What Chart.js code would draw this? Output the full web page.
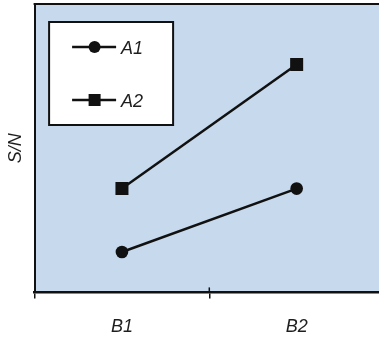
<!DOCTYPE html>
<html>
<head>
<meta charset="utf-8">
<script src="https://cdn.jsdelivr.net/npm/chart.js@4.4.1/dist/chart.umd.min.js"></script>
<style>
  html, body { margin: 0; padding: 0; background: #fff; overflow: hidden; }
  #wrap { width: 379px; height: 338px; overflow: hidden; }
</style>
</head>
<body>
<div id="wrap"><canvas id="myChart" width="384" height="356"></canvas></div>
<script>
// data
const categories = ['B1', 'B2'];
const seriesNames = ['A1', 'A2'];
const a1Values = [1.4, 3.6];
const a2Values = [3.6, 7.9];
const pointShapes = ['circle', 'rect'];
const yLabel = 'S/N';

const FONT = '"Liberation Sans", Arial, sans-serif';
const TEXT = '#1e1e1e';

// blue plot background, top frame line, crossing tick marks, boxed legend
const framePlugin = {
  id: 'frame',
  beforeDraw(chart) {
    const {ctx, chartArea} = chart;
    ctx.save();
    ctx.fillStyle = '#c6d9ed';
    ctx.fillRect(chartArea.left, chartArea.top, chartArea.right - chartArea.left, chartArea.bottom - chartArea.top);
    ctx.restore();
  },
  afterDraw(chart) {
    const {ctx, chartArea} = chart;
    const x = chart.scales.x;
    ctx.save();
    ctx.strokeStyle = '#111';
    ctx.lineWidth = 2;
    ctx.beginPath();
    ctx.moveTo(chartArea.left - 1, chartArea.top);
    ctx.lineTo(chartArea.right, chartArea.top);
    ctx.stroke();

    // inner tick marks go a bit above the axis line
    ctx.lineWidth = 1.5;
    for (let i = 0; i < categories.length - 1; i++) {
      const px = (x.getPixelForValue(i) + x.getPixelForValue(i + 1)) / 2;
      ctx.beginPath();
      ctx.moveTo(px, chartArea.bottom - 5);
      ctx.lineTo(px, chartArea.bottom);
      ctx.stroke();
    }

    // legend box
    const bx = chartArea.left + 14.5, by = chartArea.top + 18, bw = 124, bh = 103;
    ctx.fillStyle = '#fff';
    ctx.fillRect(bx, by, bw, bh);
    ctx.strokeStyle = '#111';
    ctx.lineWidth = 2;
    ctx.strokeRect(bx, by, bw, bh);

    chart.data.datasets.forEach((ds, i) => {
      const cy = by + 25 + i * 53;
      ctx.strokeStyle = '#111';
      ctx.lineWidth = 2.5;
      ctx.beginPath();
      ctx.moveTo(bx + 23, cy);
      ctx.lineTo(bx + 67, cy);
      ctx.stroke();
      ctx.fillStyle = '#111';
      if (ds.pointStyle === 'rect') {
        ctx.fillRect(bx + 45.5 - 6, cy - 6, 12, 12);
      } else {
        ctx.beginPath();
        ctx.arc(bx + 45.5, cy, 6, 0, Math.PI * 2);
        ctx.fill();
      }
      ctx.fillStyle = TEXT;
      ctx.font = 'italic 18px ' + FONT;
      ctx.textBaseline = 'middle';
      ctx.textAlign = 'left';
      ctx.fillText(ds.label, bx + 72, cy + 2);
    });
    ctx.restore();
  }
};

const ctx = document.getElementById('myChart');
new Chart(ctx, {
  type: 'line',
  data: {
    labels: categories,
    datasets: [a1Values, a2Values].map((vals, i) => ({
      label: seriesNames[i],
      data: vals,
      borderColor: '#111',
      backgroundColor: '#111',
      borderWidth: 2.5,
      pointStyle: pointShapes[i],
      pointRadius: i === 0 ? 6.3 : 9.2,
      pointBackgroundColor: '#111',
      pointBorderWidth: 0,
      tension: 0
    }))
  },
  options: {
    responsive: false,
    animation: false,
    devicePixelRatio: 1,
    layout: { autoPadding: false, padding: { top: 4, right: 0, bottom: 0, left: 5 } },
    plugins: {
      legend: { display: false },
      tooltip: { enabled: false }
    },
    scales: {
      x: {
        offset: true,
        grid: {
          offset: true,
          drawOnChartArea: false,
          drawTicks: true,
          tickLength: 6,
          color: '#111',
          lineWidth: 1.5
        },
        border: { display: true, color: '#111', width: 2.5 },
        ticks: {
          color: TEXT,
          padding: 18,
          font: { family: FONT, size: 18, style: 'italic' }
        }
      },
      y: {
        min: 0,
        max: 10,
        grid: { display: true, drawOnChartArea: false, drawTicks: false },
        border: { display: true, color: '#111', width: 2 },
        ticks: { display: false },
        title: {
          display: true,
          text: yLabel,
          color: TEXT,
          padding: { top: 0, bottom: 8 },
          font: { family: FONT, size: 18, style: 'italic' }
        }
      }
    }
  },
  plugins: [framePlugin]
});
</script>
</body>
</html>
